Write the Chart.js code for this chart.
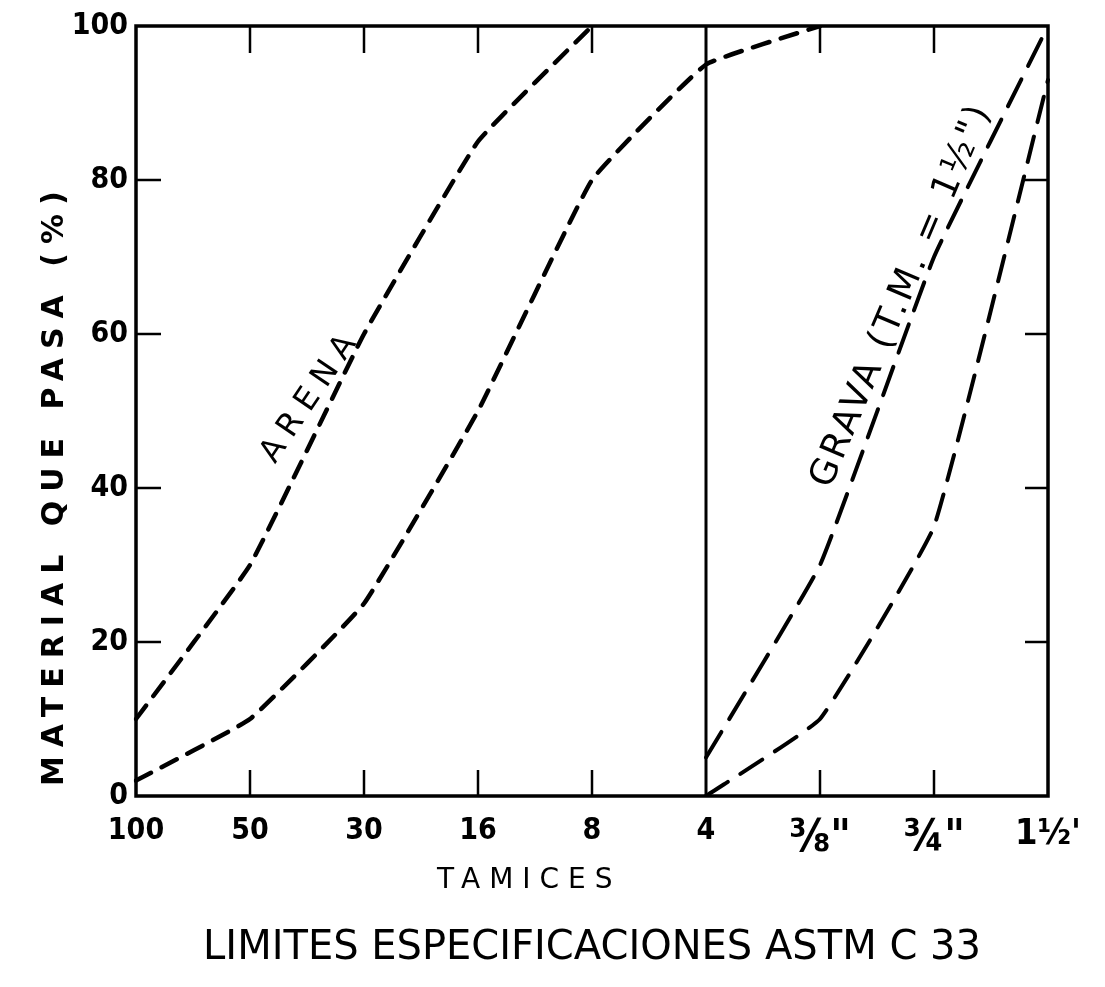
<!DOCTYPE html>
<html>
<head>
<meta charset="utf-8">
<title>Limites especificaciones ASTM C 33</title>
<script src="https://cdn.jsdelivr.net/npm/chart.js@4"></script>
<style>
  html, body { margin: 0; padding: 0; background: #fff; }
  #wrap { width: 1105px; height: 987px; position: relative; }
</style>
</head>
<body>
<div id="wrap"><canvas id="chart"></canvas></div>
<script>
// sieve openings along the bottom
const sieves = ['100', '50', '30', '16', '8', '4', '⅜"', '¾"', "1½'"];
const yTicks = [0, 20, 40, 60, 80, 100];

// sand (ARENA) limits, % passing
const arenaMax = [10, 30, 60, 85, 100, null, null, null, null];
const arenaMin = [2, 10, 25, 50, 80, 95, 100, null, null];

// gravel (GRAVA, T.M. = 1 1/2") limits, % passing
const gravaMax = [null, null, null, null, null, 5, 30, 70, 100];
const gravaMin = [null, null, null, null, null, 0, 10, 35, 93];

const dividerIndex = 5; // sieve No. 4
const narrow = "'DejaVu Sans Condensed', 'DejaVu Sans', sans-serif";
const plain = "'DejaVu Sans', sans-serif";

// hand lettering written inside and around the plot
const notes = [
    { text: 'ARENA', at: [1.54, 52], angle: -56, font: `32px ${plain}`, spacing: '9px' },
    { text: 'GRAVA (T.M. = 1½")', at: [6.72, 65], angle: -67, font: `36px ${plain}`, spacing: '3px' }
];

const line = (ctx, x1, y1, x2, y2) => {
    ctx.beginPath();
    ctx.moveTo(x1, y1);
    ctx.lineTo(x2, y2);
    ctx.stroke();
};

const spacedText = (ctx, text, px, py, angle, font, spacing, align) => {
    ctx.save();
    ctx.translate(px, py);
    ctx.rotate(angle * Math.PI / 180);
    ctx.font = font;
    ctx.letterSpacing = spacing;
    ctx.textAlign = align || 'center';
    ctx.textBaseline = 'middle';
    ctx.fillText(text, 0, 0);
    ctx.restore();
};

const framePlugin = {
    id: 'frame',
    afterDatasetsDraw(chart) {
        const { ctx, chartArea: a, scales: { x, y } } = chart;
        ctx.save();
        ctx.strokeStyle = '#000';
        ctx.lineWidth = 3.5;
        ctx.setLineDash([]);
        ctx.strokeRect(a.left, a.top, a.right - a.left, a.bottom - a.top);

        const xd = x.getPixelForValue(dividerIndex);
        ctx.lineWidth = 3;
        line(ctx, xd, a.top, xd, a.bottom);

        ctx.lineWidth = 2.5;
        sieves.forEach((s, i) => {
            if (i === 0 || i === sieves.length - 1 || i === dividerIndex) return;
            const px = x.getPixelForValue(i);
            line(ctx, px, a.bottom, px, a.bottom - 26);
            line(ctx, px, a.top, px, a.top + 27);
        });
        yTicks.slice(1, -1).forEach(v => {
            const py = y.getPixelForValue(v);
            line(ctx, a.left, py, a.left + 25, py);
            line(ctx, a.right, py, a.right - 23, py);
        });

        ctx.fillStyle = '#000';
        notes.forEach(n => {
            spacedText(ctx, n.text, x.getPixelForValue(n.at[0]), y.getPixelForValue(n.at[1]),
                n.angle, n.font, n.spacing);
        });

        // axis titles
        spacedText(ctx, 'MATERIAL QUE PASA (%)', 55, a.bottom - 10, -90,
            `bold 30px ${plain}`, '9px', 'left');
        spacedText(ctx, 'TAMICES', x.getPixelForValue(3.45), a.bottom + 85, 0,
            `28px ${plain}`, '9px');
        ctx.restore();
    }
};

const dashed = (data, dash, width) => ({
    data: data,
    borderColor: '#000',
    borderWidth: width,
    borderDash: dash,
    borderCapStyle: 'round',
    pointRadius: 0,
    tension: 0.1,
    fill: false,
    spanGaps: false
});

const tickSize = i => (i === 6 || i === 7) ? 44 : (i === 8 ? 36 : 30);

const config = {
    type: 'line',
    data: {
        labels: sieves,
        datasets: [
            dashed(arenaMax, [17, 12], 4.5),
            dashed(arenaMin, [17, 12], 4.5),
            dashed(gravaMax, [30, 15], 4),
            dashed(gravaMin, [26, 15], 4)
        ]
    },
    options: {
        responsive: true,
        maintainAspectRatio: false,
        animation: false,
        layout: { padding: { top: 23, right: 57, left: 0, bottom: 0 } },
        plugins: {
            legend: { display: false },
            tooltip: { enabled: false },
            title: {
                display: true,
                fullSize: false,
                position: 'bottom',
                text: 'LIMITES ESPECIFICACIONES ASTM C 33',
                color: '#000',
                font: { family: plain, size: 40, weight: 'normal' },
                padding: { top: 0, bottom: 14 }
            }
        },
        scales: {
            x: {
                offset: false,
                grid: { display: false, drawTicks: false },
                border: { display: false },
                ticks: {
                    color: '#000',
                    padding: 17,
                    maxRotation: 0,
                    autoSkip: false,
                    font: c => ({ family: narrow, size: tickSize(c.index), weight: 'bold' })
                },
                afterFit: s => { s.height = 129; }
            },
            y: {
                min: 0,
                max: 100,
                grid: { display: false, drawTicks: false },
                border: { display: false },
                afterBuildTicks: s => { s.ticks = yTicks.map(v => ({ value: v })); },
                ticks: {
                    color: '#000',
                    padding: 8,
                    font: { family: narrow, size: 30, weight: 'bold' }
                },
                afterFit: s => { s.width = 136; }
            }
        }
    },
    plugins: [framePlugin]
};

new Chart(document.getElementById('chart'), config);
</script>
</body>
</html>
